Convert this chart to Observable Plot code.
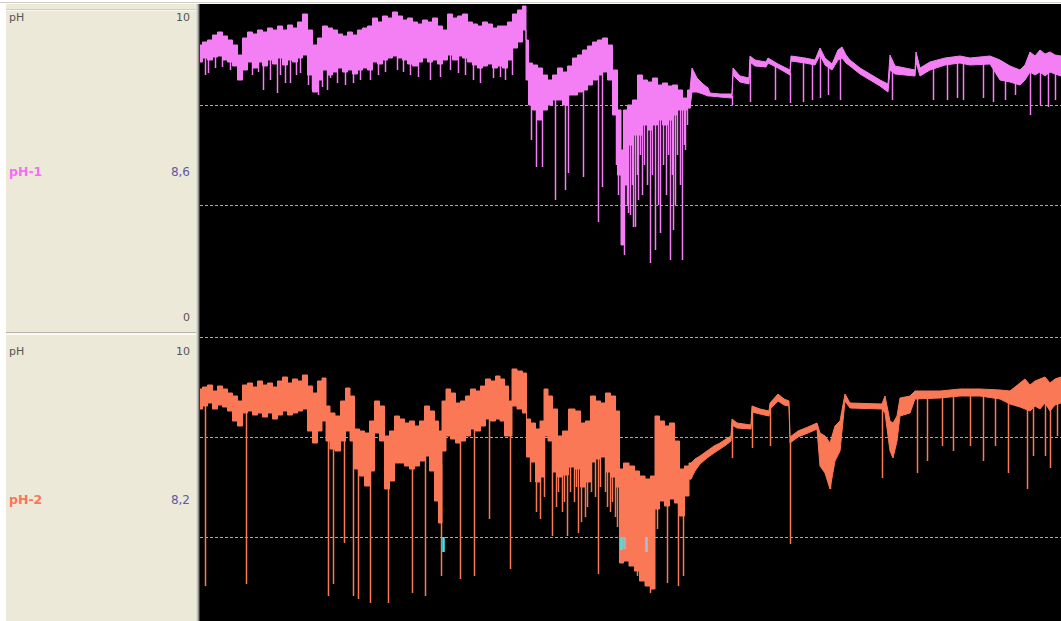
<!DOCTYPE html>
<html><head><meta charset="utf-8">
<script src="https://cdn.jsdelivr.net/npm/d3@7"></script>
<script src="https://cdn.jsdelivr.net/npm/@observablehq/plot@0.6"></script>
<style>
html,body{margin:0;padding:0;background:#fff;}
#wrap{position:relative;width:1061px;height:621px;overflow:hidden;background:#fff;font-family:"DejaVu Sans",Verdana,sans-serif;}
.box{position:absolute;}
.lab{position:absolute;font-size:11px;line-height:14px;color:#555;white-space:nowrap;}
.r{text-align:right;width:60px;}
.plot{position:absolute;left:200px;}
.plot svg{display:block;}
</style></head>
<body><div id="wrap">
<div class="box" style="left:0;top:2px;width:1061px;height:1px;background:#cfccc2"></div>
<div class="box" style="left:6px;top:4px;width:191px;height:617px;background:#ECE9D8"></div>
<div class="box" style="left:6px;top:9px;width:190px;height:1px;background:#d2cebe"></div>
<div class="box" style="left:6px;top:10px;width:190px;height:1px;background:#f8f7f2"></div>
<div class="box" style="left:6px;top:332px;width:190px;height:1px;background:#b8b4a4"></div>
<div class="box" style="left:6px;top:333px;width:190px;height:2px;background:#faf9f5"></div>
<div class="box" style="left:196px;top:4px;width:1px;height:617px;background:#dedbd0"></div>
<div class="box" style="left:197px;top:4px;width:1px;height:617px;background:#c0beb5"></div>
<div class="box" style="left:198px;top:4px;width:1px;height:617px;background:#8a8a86"></div>
<div class="box" style="left:199px;top:4px;width:1px;height:617px;background:#3a3a3a"></div>
<div class="box" style="left:200px;top:4px;width:861px;height:617px;background:#000"></div>

<div class="lab" id="u1" style="left:9px;top:11px"></div>
<div class="lab r" id="max1" style="left:130px;top:11px"></div>
<div class="lab" id="n1" style="left:9px;top:164px;font-weight:bold;font-size:12.5px;line-height:16px"></div>
<div class="lab r" id="v1" style="left:130px;top:164px;font-size:12px;line-height:16px;color:#5a5aa8"></div>
<div class="lab r" id="min1" style="left:130px;top:311px"></div>
<div class="lab" id="u2" style="left:9px;top:345px"></div>
<div class="lab r" id="max2" style="left:130px;top:345px"></div>
<div class="lab" id="n2" style="left:9px;top:492px;font-weight:bold;font-size:12.5px;line-height:16px"></div>
<div class="lab r" id="v2" style="left:130px;top:492px;font-size:12px;line-height:16px;color:#5a5aa8"></div>

<div class="plot" id="p1" style="top:4px"></div>
<div class="plot" id="p2" style="top:336px"></div>
</div>
<script>
// ---- labels ----
const unitLabel = "pH";
const seriesNames = ["pH-1", "pH-2"];
const currentValues = ["8,6", "8,2"];
const scaleMaxLabels = ["10", "10"];
const scaleMinLabels = ["0"];
const seriesColors = ["#F47FF4", "#FA7856"];
const labelColors = ["#F46EF4", "#F8765A"];
const gridTop = [9, 8];
const gridBottom = [10, 9, 8];
// sample index up to which each trace is a noisy (stepped) signal; smooth after it
const noisyUntil = [490, 491];

// ---- pH-1 : envelope of the dense trace (sample index, high, low) ----
const ph1T = [0,5,10,15,20,25,30,35,40,45,50,55,60,65,70,75,80,85,90,95,100,105,110,115,120,125,130,135,140,145,150,155,160,165,170,175,180,185,190,195,200,205,210,215,220,225,230,235,240,245,250,255,260,265,270,275,280,285,290,295,300,305,310,315,320,325,327,330,335,340,345,350,355,360,365,370,375,380,385,390,395,400,405,410,415,420,422,425,430,435,440,445,450,455,460,465,470,475,480,485,490,492,497,503,508,510,520,532,533,540,549,550,555,566,568,578,590,591,605,615,620,625,632,638,642,646,650,660,670,680,688,690,695,705,715,716,720,730,745,760,770,790,800,810,820,825,830,835,840,845,850,855,861];
const ph1Hi = [9.60,9.63,9.65,9.70,9.73,9.69,9.65,9.60,9.50,9.67,9.73,9.71,9.75,9.73,9.77,9.75,9.79,9.75,9.80,9.77,9.83,9.91,9.75,9.60,9.67,9.79,9.77,9.75,9.71,9.69,9.73,9.70,9.75,9.77,9.79,9.87,9.83,9.89,9.87,9.93,9.89,9.85,9.87,9.83,9.81,9.85,9.83,9.87,9.79,9.75,9.91,9.87,9.89,9.91,9.83,9.81,9.79,9.83,9.81,9.77,9.79,9.79,9.83,9.91,9.95,9.99,9.65,9.42,9.40,9.37,9.30,9.25,9.30,9.37,9.33,9.39,9.47,9.50,9.55,9.59,9.63,9.65,9.67,9.60,9.35,8.95,8.55,8.95,9.00,9.05,9.30,9.25,9.23,9.27,9.20,9.22,9.19,9.20,9.15,9.07,9.15,9.37,9.27,9.21,9.17,9.12,9.11,9.11,9.37,9.29,9.27,9.49,9.45,9.43,9.47,9.41,9.35,9.49,9.47,9.45,9.57,9.47,9.41,9.55,9.58,9.50,9.45,9.37,9.31,9.25,9.21,9.50,9.39,9.37,9.35,9.53,9.37,9.43,9.47,9.49,9.47,9.49,9.45,9.39,9.35,9.40,9.53,9.49,9.55,9.51,9.53,9.50,9.49];
const ph1Lo = [9.43,9.47,9.45,9.48,9.49,9.45,9.43,9.39,9.25,9.35,9.43,9.37,9.43,9.39,9.45,9.41,9.47,9.40,9.45,9.43,9.47,9.50,9.30,9.13,9.25,9.35,9.30,9.33,9.37,9.33,9.35,9.31,9.35,9.37,9.35,9.43,9.41,9.45,9.47,9.49,9.47,9.45,9.41,9.39,9.43,9.47,9.43,9.45,9.41,9.45,9.50,9.45,9.49,9.47,9.43,9.40,9.37,9.39,9.41,9.37,9.39,9.37,9.45,9.57,9.63,9.75,9.25,9.00,8.95,8.85,8.95,9.00,9.05,9.05,9.00,9.10,9.10,9.13,9.15,9.20,9.25,9.30,9.33,9.25,8.90,8.30,7.60,8.20,8.60,8.70,8.70,8.80,8.75,8.80,8.85,8.80,8.85,8.90,8.95,8.95,8.97,9.13,9.13,9.11,9.09,9.09,9.08,9.07,9.30,9.23,9.21,9.43,9.39,9.38,9.42,9.37,9.30,9.44,9.42,9.40,9.50,9.40,9.35,9.45,9.47,9.42,9.39,9.31,9.25,9.19,9.13,9.35,9.31,9.30,9.29,9.43,9.29,9.35,9.40,9.42,9.40,9.41,9.25,9.23,9.20,9.25,9.33,9.30,9.33,9.29,9.33,9.31,9.29];
// downward spikes of pH-1 (sample index, lowest value)
const ph1SpikeT = [5,8,15,22,30,38,52,58,63,70,77,80,85,90,96,100,108,112,118,122,127,130,137,145,153,160,170,178,185,197,203,210,218,230,240,250,258,265,273,280,293,300,305,312,331,336,342,355,365,368,383,398,402,416,418,424,427,428,430,432,433,435,437,438,440,442,444,447,450,452,455,458,460,463,466,468,470,472,473,475,477,480,482,484,485,487,532,550,575,590,603,612,620,628,640,692,733,747,757,763,783,793,805,815,830,840,848,855];
const ph1SpikeLow = [9.30,9.32,9.37,9.38,9.35,9.28,9.30,9.33,9.15,9.25,9.12,9.30,9.22,9.22,9.30,9.32,9.20,9.15,9.10,9.18,9.15,9.27,9.22,9.20,9.22,9.25,9.25,9.30,9.33,9.35,9.33,9.30,9.28,9.25,9.28,9.35,9.32,9.30,9.25,9.22,9.27,9.28,9.25,9.30,8.65,8.38,8.38,8.05,8.15,8.32,8.28,7.83,8.18,8.40,8.10,7.50,8.00,7.92,7.90,8.20,7.78,7.78,8.30,8.05,8.50,8.10,8.40,8.20,7.42,8.30,7.55,8.00,7.72,8.40,8.10,8.50,7.45,8.30,7.75,8.00,8.50,8.20,7.45,8.60,8.55,8.80,9.00,9.03,9.05,9.02,9.03,9.05,9.07,9.10,9.05,9.05,9.05,9.05,9.07,9.05,9.07,9.03,9.05,9.10,8.90,9.00,8.98,9.05];

// ---- pH-2 ----
const ph2T = [0,5,10,15,20,25,30,35,40,45,50,55,60,65,70,75,80,85,90,95,100,105,110,115,120,124,128,132,138,143,148,152,157,162,167,172,177,182,187,192,197,202,207,212,217,222,227,232,237,240,244,248,253,258,263,268,273,278,283,288,293,298,302,307,310,314,320,325,328,333,338,342,346,350,355,360,365,372,378,383,388,393,398,403,408,413,418,421,426,432,437,442,448,453,457,462,467,472,477,482,487,491,495,500,507,514,520,526,531,532,537,551,552,560,569,570,578,584,589,590,598,608,617,620,625,630,635,640,645,650,682,685,690,693,697,700,710,715,740,760,780,800,810,820,825,830,835,840,845,850,855,861];
const ph2Hi = [9.48,9.50,9.52,9.46,9.51,9.48,9.44,9.41,9.36,9.52,9.54,9.50,9.56,9.52,9.54,9.50,9.56,9.60,9.54,9.58,9.56,9.62,9.51,9.44,9.56,9.59,9.31,9.24,9.21,9.36,9.49,9.41,9.08,9.06,9.04,9.16,9.36,9.31,9.01,9.06,9.21,9.18,9.14,9.16,9.11,9.16,9.31,9.26,9.16,9.06,9.36,9.48,9.44,9.34,9.36,9.41,9.48,9.46,9.51,9.58,9.56,9.61,9.58,9.51,9.36,9.68,9.66,9.64,9.18,9.14,9.08,9.16,9.48,9.41,9.28,9.01,9.06,9.28,9.26,9.14,9.16,9.41,9.36,9.34,9.44,9.41,9.26,8.68,8.74,8.71,8.66,8.61,8.58,8.61,9.21,9.16,9.11,9.14,8.96,8.68,8.71,8.74,8.78,8.81,8.86,8.91,8.94,8.98,9.01,9.18,9.14,9.12,9.31,9.28,9.26,9.34,9.43,9.38,9.36,9.00,9.06,9.10,9.14,9.04,9.01,8.94,9.11,9.16,9.43,9.34,9.33,9.41,9.16,9.14,9.21,9.39,9.41,9.46,9.46,9.48,9.48,9.47,9.46,9.54,9.58,9.52,9.56,9.58,9.60,9.54,9.58,9.60];
const ph2Lo = [9.28,9.31,9.34,9.28,9.32,9.30,9.26,9.16,9.11,9.24,9.26,9.22,9.24,9.20,9.24,9.18,9.22,9.26,9.22,9.24,9.26,9.28,9.06,8.94,9.06,9.16,8.96,8.88,8.86,8.96,9.06,8.96,8.68,8.61,8.51,8.66,9.04,8.96,8.48,8.56,8.74,8.74,8.71,8.68,8.71,8.76,8.81,8.66,8.36,8.14,8.86,9.01,8.98,8.94,8.96,9.01,9.08,9.06,9.11,9.18,9.16,9.18,9.16,9.01,9.01,9.31,9.28,9.24,8.80,8.75,8.55,8.60,9.01,8.96,8.65,8.60,8.62,8.70,8.68,8.50,8.55,8.75,8.78,8.80,8.65,8.60,8.50,7.74,7.76,7.71,7.66,7.56,7.51,7.48,8.28,8.36,8.31,8.38,8.34,8.21,8.41,8.58,8.66,8.73,8.79,8.84,8.88,8.92,8.96,9.12,9.09,9.08,9.25,9.23,9.21,9.28,9.36,9.32,9.31,8.94,9.00,9.04,9.08,8.71,8.64,8.48,8.76,8.86,9.36,9.29,9.28,9.24,8.86,8.79,8.96,9.21,9.24,9.38,9.39,9.41,9.41,9.38,9.33,9.30,9.28,9.26,9.31,9.28,9.34,9.26,9.32,9.34];
const ph2SpikeT = [5,46,128,133,144,153,158,170,188,212,225,241,260,274,289,310,330,336,340,344,352,356,358,362,364,367,370,374,376,378,381,385,387,391,395,398,400,405,407,410,412,415,417,420,437,450,457,467,478,483,532,552,570,590,630,682,717,727,742,753,770,783,795,808,827,833,845,850,857];
const ph2SpikeLow = [7.51,7.53,7.41,7.53,7.94,7.41,7.38,7.34,7.34,7.44,7.41,7.61,7.58,7.61,8.18,7.68,8.55,8.25,8.18,8.40,8.01,8.30,8.45,8.25,8.35,8.01,8.45,8.35,8.50,8.04,8.15,8.20,8.30,8.45,8.40,7.63,8.50,8.45,8.30,8.25,8.35,8.20,8.10,7.74,7.61,7.44,8.08,7.54,7.51,7.61,8.79,8.89,8.91,7.93,8.48,8.59,8.64,8.76,8.91,8.86,8.91,8.76,8.91,8.64,8.48,8.81,8.81,8.69,9.01];
// alarm marks (cyan) below the lower limit on pH-2
const alarmT = [243, 421, 424, 446];
const alarmHigh = [8.0, 8.0, 8.0, 8.0];
const alarmLow = [7.85, 7.87, 7.88, 7.85];
const alarmColors = ["#3ee6ee", "#3ee6ee", "#9fb8c0", "#a8c4cc"];

// ---- text ----
document.getElementById("u1").textContent = unitLabel;
document.getElementById("u2").textContent = unitLabel;
document.getElementById("max1").textContent = scaleMaxLabels[0];
document.getElementById("max2").textContent = scaleMaxLabels[1];
document.getElementById("min1").textContent = scaleMinLabels[0];
const n1 = document.getElementById("n1"); n1.textContent = seriesNames[0]; n1.style.color = labelColors[0];
const n2 = document.getElementById("n2"); n2.textContent = seriesNames[1]; n2.style.color = labelColors[1];
document.getElementById("v1").textContent = currentValues[0];
document.getElementById("v2").textContent = currentValues[1];

// ---- helpers ----
function rows(T, Hi, Lo) { return T.map((t, i) => ({t, hi: Hi[i], lo: Lo[i]})); }
function midAt(T, Hi, Lo, t) {
  const i = d3.bisectLeft(T, t);
  if (i <= 0) return (Hi[0] + Lo[0]) / 2;
  if (i >= T.length) return (Hi[T.length - 1] + Lo[T.length - 1]) / 2;
  const a = i - 1, f = (t - T[a]) / (T[i] - T[a]);
  return ((Hi[a] + Lo[a]) / 2) * (1 - f) + ((Hi[i] + Lo[i]) / 2) * f;
}
function spikes(T, Hi, Lo, ST, SL) { return ST.map((t, i) => ({t, low: SL[i], top: midAt(T, Hi, Lo, t)})); }

function panel({T, Hi, Lo, ST, SL, split, color, height, yMin, grid, extra = []}) {
  const band = rows(T, Hi, Lo);
  return Plot.plot({
    width: 861, height, marginTop: 1, marginBottom: 0, marginLeft: 0, marginRight: 0,
    style: {background: "#000", overflow: "hidden"},
    x: {domain: [0, 861], axis: null},
    y: {domain: [yMin, 10], axis: null},
    marks: [
      Plot.ruleY(grid, {stroke: "#c8c8c8", strokeOpacity: 0.85, strokeDasharray: "3,2", shapeRendering: "crispEdges"}),
      Plot.ruleX(spikes(T, Hi, Lo, ST, SL), {x: "t", y1: "low", y2: "top", stroke: color, strokeWidth: 1.5}),
      Plot.areaY(band.filter(d => d.t <= split), {x: "t", y1: "lo", y2: "hi", fill: color, stroke: color, strokeWidth: 1, curve: "step"}),
      Plot.areaY(band.filter(d => d.t >= split), {x: "t", y1: "lo", y2: "hi", fill: color, stroke: color, strokeWidth: 1, curve: "linear"}),
      ...extra
    ]
  });
}

document.getElementById("p1").append(panel({
  T: ph1T, Hi: ph1Hi, Lo: ph1Lo, ST: ph1SpikeT, SL: ph1SpikeLow, split: noisyUntil[0],
  color: seriesColors[0], height: 332, yMin: 6.69, grid: gridTop
}));
const alarms = alarmT.map((t, i) => ({t, hi: alarmHigh[i], lo: alarmLow[i], c: alarmColors[i]}));
document.getElementById("p2").append(panel({
  T: ph2T, Hi: ph2Hi, Lo: ph2Lo, ST: ph2SpikeT, SL: ph2SpikeLow, split: noisyUntil[1],
  color: seriesColors[1], height: 285, yMin: 7.16, grid: gridBottom,
  extra: [Plot.ruleX(alarms, {x: "t", y1: "lo", y2: "hi", stroke: d => d.c, strokeWidth: 2.5})]
}));
</script>
</body></html>
